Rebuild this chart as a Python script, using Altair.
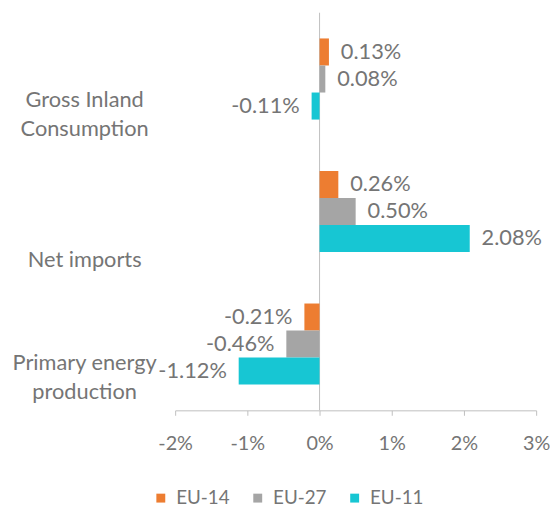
import altair as alt
import pandas as pd

categories = ["Gross Inland|Consumption", "Net imports", "Primary energy|production"]
series = ["EU-14", "EU-27", "EU-11"]
eu14 = [0.0013, 0.0026, -0.0021]
eu27 = [0.0008, 0.0050, -0.0046]
eu11 = [-0.0011, 0.0208, -0.0112]
colors = ["#ED7D31", "#A5A5A5", "#17C6D3"]
x_ticks = [-0.02, -0.01, 0.0, 0.01, 0.02, 0.03]

rows = []
for s, vals in zip(series, [eu14, eu27, eu11]):
    for c, v in zip(categories, vals):
        rows.append({"category": c, "series": s, "value": v})
df = pd.DataFrame(rows)

FONT = "Lato"
TXT = "#757575"

y_enc = alt.Y(
    "category:N",
    sort=categories,
    scale=alt.Scale(paddingInner=0.388, paddingOuter=0.194),
    axis=alt.Axis(
        title=None,
        domain=False,
        ticks=False,
        labelAlign="center",
        labelBaseline="middle",
        labelPadding=92,
        labelOffset={
            "condition": [
                {"test": "datum.value === 'Net imports'", "value": 49},
                {"test": "datum.value === 'Gross Inland|Consumption'", "value": 21},
            ],
            "value": 19,
        },
        labelExpr="split(datum.value, '|')",
        labelFontSize=22,
        labelLineHeight=30,
        labelFont=FONT,
        labelColor=TXT,
        labelLimit=300,
    ),
)
yoff = alt.YOffset("series:N", sort=series, scale=alt.Scale(paddingInner=0, paddingOuter=0))
x_enc = alt.X(
    "value:Q",
    scale=alt.Scale(domain=[-0.02, 0.03], nice=False),
    axis=alt.Axis(
        title=None,
        values=x_ticks,
        format=".0%",
        labelExpr="replace(datum.label, '\u2212', '-')",
        grid=False,
        domainColor="#BFBFBF",
        tickColor="#BFBFBF",
        tickSize=5,
        labelPadding=19,
        labelFontSize=20,
        labelFont=FONT,
        labelColor=TXT,
        labelFlush=False,
    ),
)

base = alt.Chart(df).transform_calculate(
    label="replace(format(datum.value, '.2%'), '\u2212', '-')"
)

zero = alt.Chart(pd.DataFrame({"z": [0.0]})).mark_rule(color="#BFBFBF", strokeWidth=1).encode(x="z:Q")

bars = base.mark_bar().encode(
    x=x_enc,
    y=y_enc,
    yOffset=yoff,
    color=alt.Color(
        "series:N",
        sort=series,
        scale=alt.Scale(domain=series, range=colors),
        legend=alt.Legend(
            title=None,
            orient="none",
            legendX=-24,
            legendY=481,
            direction="horizontal",
            symbolType="square",
            symbolSize=81,
            symbolStrokeWidth=0,
            labelFontSize=19,
            labelFont=FONT,
            labelColor=TXT,
            labelOffset=6,
            columnPadding=18,
        ),
    ),
)

pos_labels = base.transform_filter("datum.value >= 0").mark_text(
    align="left", baseline="middle", dx=12, fontSize=22, font=FONT, color=TXT
).encode(x="value:Q", y=alt.Y("category:N", sort=categories), yOffset=yoff, text="label:N")

neg_labels = base.transform_filter("datum.value < 0").mark_text(
    align="right", baseline="middle", dx=-12, fontSize=22, font=FONT, color=TXT
).encode(x="value:Q", y=alt.Y("category:N", sort=categories), yOffset=yoff, text="label:N")

chart = (
    alt.layer(zero, bars, pos_labels, neg_labels)
    .properties(
        width=365,
        height=402,
        background="white",
        autosize=alt.AutoSizeParams(type="none"),
        padding={"left": 169, "top": 2, "right": 14, "bottom": 100},
    )
    .configure_view(stroke=None)
)

chart.save("out.html", embed_options={"renderer": "svg", "actions": False})
